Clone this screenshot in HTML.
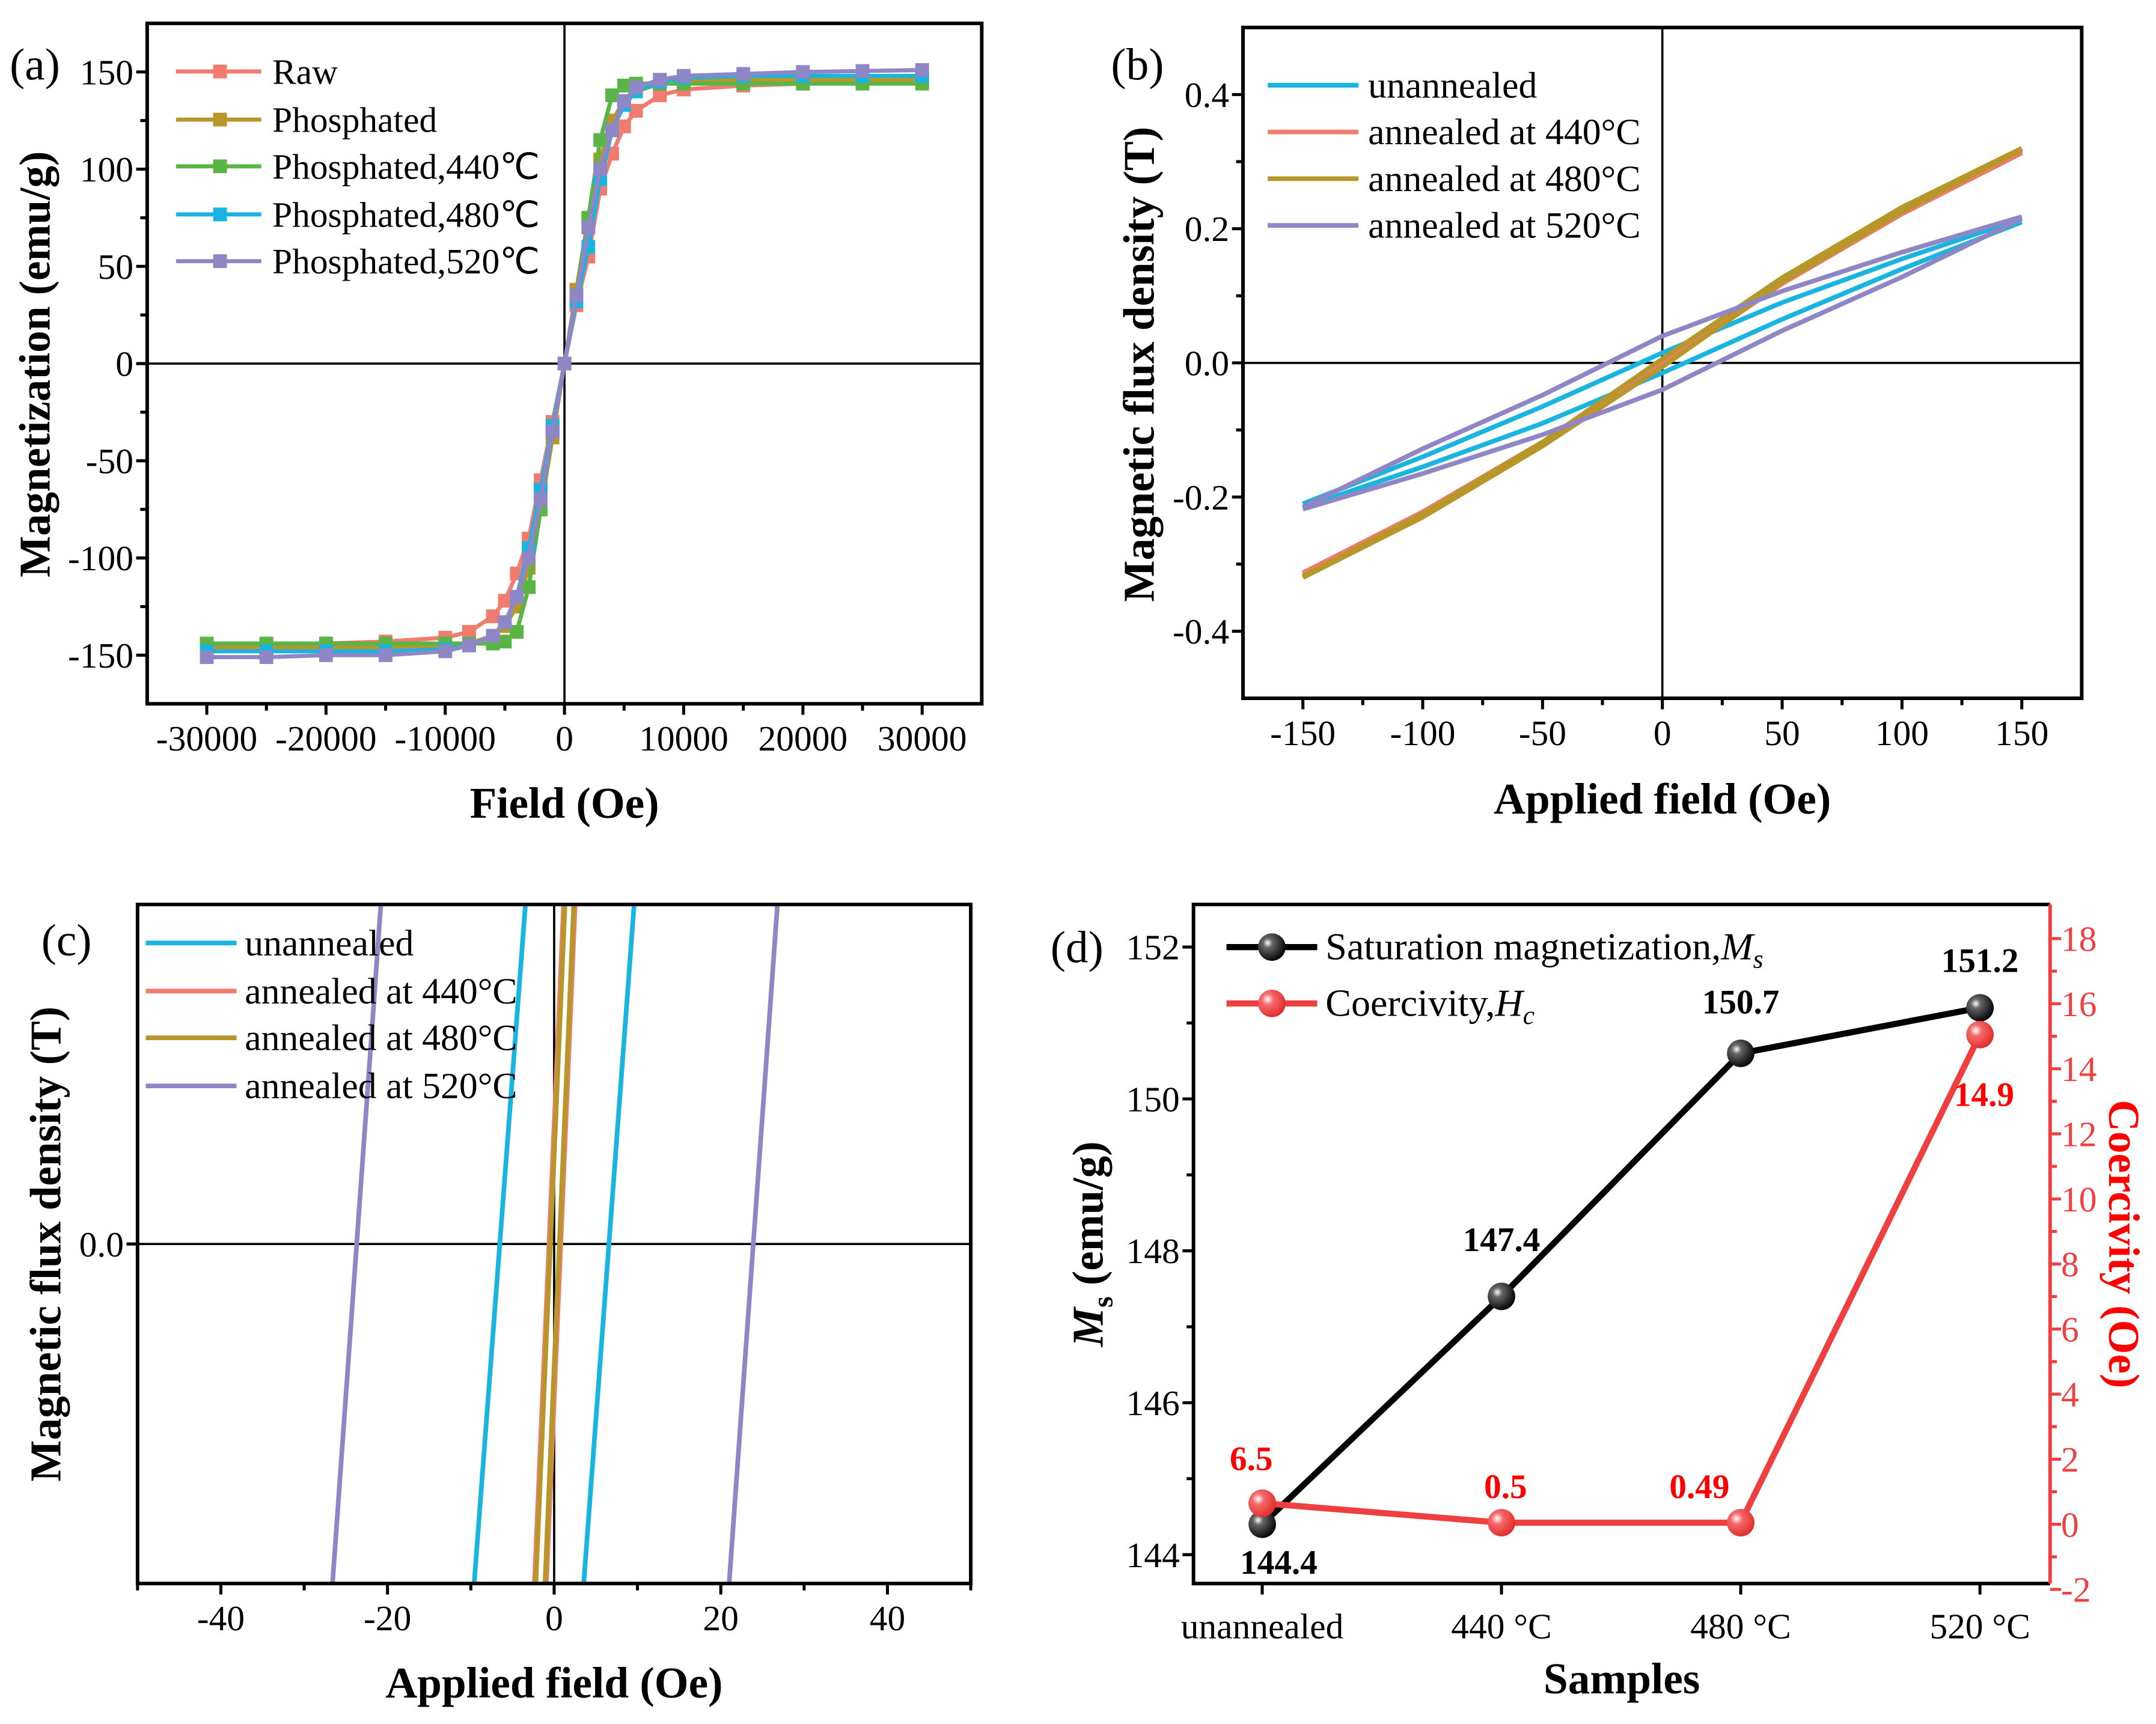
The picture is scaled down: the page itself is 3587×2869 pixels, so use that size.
<!DOCTYPE html>
<html><head><meta charset="utf-8"><style>
html,body{margin:0;padding:0;background:#fff}
svg{display:block;font-family:"Liberation Serif",serif}
</style></head><body>
<svg id="fig" xmlns="http://www.w3.org/2000/svg" width="3587" height="2869" viewBox="0 0 1568 1254.2">
<rect width="1568" height="1255" fill="#fff"/>
</svg>
<script>
// ---------- Data ----------
// Panel (a)
const aField=[-30000,-25000,-20000,-15000,-10000,-8000,-6000,-5000,-4000,-3000,-2000,-1000,0,1000,2000,3000,4000,5000,6000,8000,10000,15000,20000,25000,30000];
const aRaw=[-145,-145,-144,-143,-141,-138,-130,-122,-108,-90,-60,-30,0,30,55,90,108,122,130,138,141,143,144,145,145];
const aPhos=[-146,-146,-146,-146,-145,-144,-140,-135,-125,-105,-75,-38,0,38,75,105,125,135,140,144,145,146,146,146,146];
const aP440=[-144,-144,-144,-144,-144,-144,-144,-143,-138,-115,-75,-35,0,35,75,115,138,143,144,144,144,144,144,144,144];
const aP480=[-148,-148,-148,-148,-147,-145,-140,-133,-120,-95,-65,-32,0,32,60,95,120,133,140,145,147,148,148,148,148];
const aP520=[-151,-151,-150,-150,-148,-145,-140,-133,-120,-100,-70,-35,0,35,70,100,120,135,142,146,148,149,150,150.5,151];
const aNames=["Raw","Phosphated","Phosphated,440℃","Phosphated,480℃","Phosphated,520℃"];
const aXTicks=[-30000,-20000,-10000,0,10000,20000,30000];
const aYTicks=[-150,-100,-50,0,50,100,150];
// Panel (b)
const bField=[-150,-100,-50,0,50,100,150];
const bUnUp=[-0.21,-0.14,-0.065,0.015,0.09,0.155,0.215];
const bUnLo=[-0.215,-0.155,-0.09,-0.015,0.065,0.14,0.21];
const b440Up=[-0.313,-0.222,-0.118,0.004,0.124,0.228,0.315];
const b440Lo=[-0.315,-0.226,-0.122,-0.004,0.118,0.222,0.313];
const b480Up=[-0.318,-0.225,-0.118,0.006,0.127,0.232,0.32];
const b480Lo=[-0.32,-0.23,-0.124,-0.006,0.12,0.225,0.318];
const b520Up=[-0.215,-0.128,-0.048,0.04,0.107,0.165,0.218];
const b520Lo=[-0.218,-0.165,-0.107,-0.04,0.048,0.128,0.215];
const bNames=["unannealed","annealed at 440°C","annealed at 480°C","annealed at 520°C"];
const bXTicks=[-150,-100,-50,0,50,100,150];
const bYTicks=[-0.4,-0.2,0.0,0.2,0.4];
// Panel (c): branches as [x at bottom, x at top]
const cB=[-1,1];
const cUn1=[-9.6,-3.45], cUn2=[3.55,9.6];
const c440a=[-2.3,1.2], c440b=[-1.0,2.45];
const c480a=[-2.2,1.3], c480b=[-1.1,2.35];
const c520a=[-26.6,-20.8], c520b=[21.0,26.8];
const cXTicks=[-40,-20,0,20,40];
// Panel (d)
const dCats=["unannealed","440 °C","480 °C","520 °C"];
const dMs=[144.4,147.4,150.6,151.2];
const dMsLabels=["144.4","147.4","150.7","151.2"];
const dHc=[0.65,0.05,0.05,15.05];
const dHcLabels=["6.5","0.5","0.49","14.9"];
const dLTicks=[144,146,148,150,152];
const dRTicks=[-2,0,2,4,6,8,10,12,14,16,18];

// ---------- Helpers ----------
const NS="http://www.w3.org/2000/svg";
const svg=document.getElementById('fig');
function el(tag,attrs,parent,txt){const e=document.createElementNS(NS,tag);for(const k in attrs)e.setAttribute(k,attrs[k]);if(txt!==undefined)e.textContent=txt;(parent||svg).appendChild(e);return e;}
function lin(d0,d1,p0,p1){return v=>p0+(v-d0)*(p1-p0)/(d1-d0);}
function pathD(xs,ys,X,Y){return xs.map((v,i)=>(i?'L':'M')+X(v).toFixed(2)+','+Y(ys[i]).toFixed(2)).join(' ');}
function txt(x,y,s,size,anchor,opts,name){const t=el('text',Object.assign({x:x,y:y,'font-size':size,'text-anchor':anchor||'middle'},opts||{}),null,s);

return t;}
function frame(x0,y0,x1,y1,name){const r=el('rect',{x:x0,y:y0,width:x1-x0,height:y1-y0,fill:'none',stroke:'#000','stroke-width':2.6});

}
function tick(x1,y1,x2,y2,col){const l=el('line',{x1:x1,y1:y1,x2:x2,y2:y2,stroke:col||'#000','stroke-width':2.2});

}
function line(x1,y1,x2,y2,w,name){const l=el('line',{x1:x1,y1:y1,x2:x2,y2:y2,stroke:'#000','stroke-width':w||1.6});

}
function clip(id,x0,y0,x1,y1){const c=el('clipPath',{id:id});el('rect',{x:x0,y:y0,width:x1-x0,height:y1-y0},c);}
const TF=26, LF=26, TT=32, PL=33;

// ---------- Panel (a) ----------
(function(){
const L=107,R=714,T=17,B=512;
const X=lin(-35000,35000,L,R), Y=lin(-175,175,B,T);
clip('ca',L,T,R,B);
line(X(0),T,X(0),B,1.6,'a-zero-vline');line(L,Y(0),R,Y(0),1.6,'a-zero-hline');
const cols=['#f07c6f','#b8972a','#5bb446','#1ab4e0','#8f86c6'];
const ser=[aRaw,aPhos,aP440,aP480,aP520];
const g=el('g',{'clip-path':'url(#ca)'});
ser.forEach((s,k)=>{
 const p=el('path',{d:pathD(aField,s,X,Y),fill:'none',stroke:cols[k],'stroke-width':3,'stroke-linejoin':'round'},g);
 
 
 aField.forEach((f,i)=>{if(Math.abs(f)<1000&&f!==0)return;const m=el('rect',{x:X(f)-5,y:Y(s[i])-5,width:10,height:10,fill:cols[k]},g);
 
 });
});
frame(L,T,R,B,'a-plot-frame');
aXTicks.forEach(v=>{tick(X(v),B,X(v),B+8);txt(X(v),B+34,String(v),TF,'middle',{},'a-x-tick-label');});
[-25000,-15000,-5000,5000,15000,25000].forEach(v=>tick(X(v),B,X(v),B+5));
aYTicks.forEach(v=>{tick(L,Y(v),L-8,Y(v));txt(L-10,Y(v)+9,String(v),TF,'end',{},'a-y-tick-label');});
[-125,-75,-25,25,75,125].forEach(v=>tick(L,Y(v),L-5,Y(v)));
txt(X(0),595,'Field (Oe)',TT,'middle',{'font-weight':'bold'},'a-x-axis-title');
txt(0,0,'Magnetization (emu/g)',TT,'middle',{'font-weight':'bold',transform:'translate(36,265) rotate(-90)'},'a-y-axis-title');
txt(7,58,'(a)',PL,'start',{},'a-panel-label');
const ys=[52,87,121,156,190];
aNames.forEach((n,k)=>{const l=el('line',{x1:128,y1:ys[k],x2:190,y2:ys[k],stroke:cols[k],'stroke-width':3});


el('rect',{x:155,y:ys[k]-5,width:10,height:10,fill:cols[k]});
txt(198,ys[k]+9,n,LF,'start',{},'a-legend-entry');});
})();

// ---------- Panel (b) ----------
(function(){
const L=904,R=1514,T=20,B=508;
const X=lin(-175,175,L,R), Y=lin(-0.5,0.5,B,T);
line(X(0),T,X(0),B,1.6,'b-zero-vline');line(L,Y(0),R,Y(0),1.6,'b-zero-hline');
const cols=['#1ab4e0','#f07c6f','#b8972a','#8f86c6'];
const ser=[[bUnUp,bUnLo],[b440Up,b440Lo],[b480Up,b480Lo],[b520Up,b520Lo]];
ser.forEach((pr,k)=>pr.forEach(s=>{const p=el('path',{d:pathD(bField,s,X,Y),fill:'none',stroke:cols[k],'stroke-width':3.4});

}));
frame(L,T,R,B,'b-plot-frame');
bXTicks.forEach(v=>{tick(X(v),B,X(v),B+8);txt(X(v),B+34,String(v),TF,'middle',{},'b-x-tick-label');});
[-125,-75,-25,25,75,125].forEach(v=>tick(X(v),B,X(v),B+5));
bYTicks.forEach(v=>{tick(L,Y(v),L-8,Y(v));txt(L-10,Y(v)+9,v.toFixed(1),TF,'end',{},'b-y-tick-label');});
[-0.3,-0.1,0.1,0.3].forEach(v=>tick(L,Y(v),L-5,Y(v)));
txt(X(0),592,'Applied field (Oe)',TT,'middle',{'font-weight':'bold'},'b-x-axis-title');
txt(0,0,'Magnetic flux density (T)',TT,'middle',{'font-weight':'bold',transform:'translate(839,265) rotate(-90)'},'b-y-axis-title');
txt(808,58,'(b)',PL,'start',{},'b-panel-label');
const ys=[62,96,130,164];
bNames.forEach((n,k)=>{const l=el('line',{x1:922,y1:ys[k],x2:988,y2:ys[k],stroke:cols[k],'stroke-width':3.4});


txt(995,ys[k]+9,n,27,'start',{},'b-legend-entry');});
})();

// ---------- Panel (c) ----------
(function(){
const L=100,R=706,T=658,B=1152;
const X=lin(-50,50,L,R), Y=lin(-1,1,B,T);
clip('cc',L,T,R,B);
line(X(0),T,X(0),B,1.6,'c-zero-vline');line(L,Y(0),R,Y(0),1.6,'c-zero-hline');
const cols=['#1ab4e0','#f07c6f','#b8972a','#8f86c6'];
const ser=[[cUn1,cUn2],[c440a,c440b],[c480a,c480b],[c520a,c520b]];
const g=el('g',{'clip-path':'url(#cc)'});
ser.forEach((pr,k)=>pr.forEach(s=>{const p=el('path',{d:pathD(s,cB,X,Y),fill:'none',stroke:cols[k],'stroke-width':k===1?4.2:3.4},g);

}));
frame(L,T,R,B,'c-plot-frame');
cXTicks.forEach(v=>{tick(X(v),B,X(v),B+8);txt(X(v),B+34,String(v),TF,'middle',{},'c-x-tick-label');});
[-50,-30,-10,10,30,50].forEach(v=>tick(X(v),B,X(v),B+5));
tick(L,Y(0),L-8,Y(0));txt(L-10,Y(0)+9,'0.0',TF,'end',{},'c-y-tick-label');
txt(X(0),1235,'Applied field (Oe)',TT,'middle',{'font-weight':'bold'},'c-x-axis-title');
txt(0,0,'Magnetic flux density (T)',TT,'middle',{'font-weight':'bold',transform:'translate(44,905) rotate(-90)'},'c-y-axis-title');
txt(30,695,'(c)',PL,'start',{},'c-panel-label');
const ys=[686,721,755,790];
bNames.forEach((n,k)=>{const l=el('line',{x1:106,y1:ys[k],x2:172,y2:ys[k],stroke:cols[k],'stroke-width':3.4});


txt(178,ys[k]+9,n,27,'start',{},'c-legend-entry');});
})();

// ---------- Panel (d) ----------
(function(){
const L=868,R=1491,T=658,B=1152;
const cx=[918,1088,1264,1440];
const X=i=>cx[0]+i*(cx[3]-cx[0])/(dCats.length-1);
const Y=lin(143.62,152.56,B,T), Y2=lin(-1.82,19.05,B,T);
const defs=el('defs',{});
const rg1=el('radialGradient',{id:'gk',cx:'0.35',cy:'0.35',r:'0.7'},defs);
el('stop',{offset:'0','stop-color':'#ffffff'},rg1);el('stop',{offset:'0.25','stop-color':'#666'},rg1);el('stop',{offset:'1','stop-color':'#000'},rg1);
const rg2=el('radialGradient',{id:'gr',cx:'0.35',cy:'0.35',r:'0.7'},defs);
el('stop',{offset:'0','stop-color':'#fff'},rg2);el('stop',{offset:'0.3','stop-color':'#f46a6a'},rg2);el('stop',{offset:'1','stop-color':'#e02a2a'},rg2);
const p1=el('path',{d:pathD(dMs.map((_,i)=>i),dMs,X,Y),fill:'none',stroke:'#000','stroke-width':4.5});


const p2=el('path',{d:pathD(dHc.map((_,i)=>i),dHc,X,Y2),fill:'none',stroke:'#ee4040','stroke-width':4.5});


dMs.forEach((v,i)=>{const c=el('circle',{cx:X(i),cy:Y(v),r:10,fill:'url(#gk)'});

});
dHc.forEach((v,i)=>{const c=el('circle',{cx:X(i),cy:Y2(v),r:10,fill:'url(#gr)'});

});
const msOff=[[12,36],[0,-33],[0,-29],[0,-26]];
dMsLabels.forEach((s,i)=>txt(X(i)+msOff[i][0],Y(dMs[i])+msOff[i][1],s,25,'middle',{'font-weight':'bold'},'d-ms-value-label'));
const hcOff=[[-8,-24],[3,-18],[-30,-18],[3,52]];
dHcLabels.forEach((s,i)=>txt(X(i)+hcOff[i][0],Y2(dHc[i])+hcOff[i][1],s,25,'middle',{'font-weight':'bold',fill:'#f00'},'d-hc-value-label'));
const f=el('path',{d:`M${R},${T} L${L},${T} L${L},${B} L${R},${B}`,fill:'none',stroke:'#000','stroke-width':2.6});


const ra=el('line',{x1:R,y1:T,x2:R,y2:B,stroke:'#ee4040','stroke-width':2.6});


dCats.forEach((c,i)=>{tick(X(i),B,X(i),B+8);txt(X(i),B+40,c,TF,'middle',{},'d-x-tick-label');});
dLTicks.forEach(v=>{tick(L,Y(v),L-8,Y(v));txt(L-10,Y(v)+9,String(v),TF,'end',{},'d-left-tick-label');});
[145,147,149,151].forEach(v=>tick(L,Y(v),L-5,Y(v)));
dRTicks.forEach(v=>{tick(R,Y2(v),R+8,Y2(v),'#ee4040');txt(R+8,Y2(v)+9,String(v),TF,'start',{fill:'#ee4040'},'d-right-tick-label');});
[-1,1,3,5,7,9,11,13,15,17].forEach(v=>tick(R,Y2(v),R+5,Y2(v),'#ee4040'));
txt((L+R)/2,1232,'Samples',TT,'middle',{'font-weight':'bold'},'d-x-axis-title');
const yt=txt(0,0,'',TT,'middle',{'font-weight':'bold',transform:'translate(802,905) rotate(-90)'},'d-left-axis-title');
el('tspan',{'font-style':'italic'},yt,'M');el('tspan',{'font-size':21,dy:7},yt,'s');el('tspan',{dy:-7},yt,' (emu/g)');
txt(0,0,'Coercivity (Oe)',TT,'middle',{'font-weight':'bold',fill:'#f00',transform:'translate(1534,905) rotate(90)'},'d-right-axis-title');
txt(764,700,'(d)',PL,'start',{},'d-panel-label');
const l1=el('line',{x1:892,y1:689,x2:958,y2:689,stroke:'#000','stroke-width':4.5});


el('circle',{cx:925,cy:689,r:10,fill:'url(#gk)'});
const t1=txt(964,698,'Saturation magnetization,',28,'start',{},'d-legend-entry-ms');
el('tspan',{'font-style':'italic'},t1,'M');el('tspan',{'font-style':'italic','font-size':19,dy:6},t1,'s');
const l2=el('line',{x1:892,y1:730,x2:958,y2:730,stroke:'#ee4040','stroke-width':4.5});


el('circle',{cx:925,cy:730,r:10,fill:'url(#gr)'});
const t2=txt(964,739,'Coercivity,',28,'start',{},'d-legend-entry-hc');
el('tspan',{'font-style':'italic'},t2,'H');el('tspan',{'font-style':'italic','font-size':19,dy:6},t2,'c');
})();
</script>
</body></html>
